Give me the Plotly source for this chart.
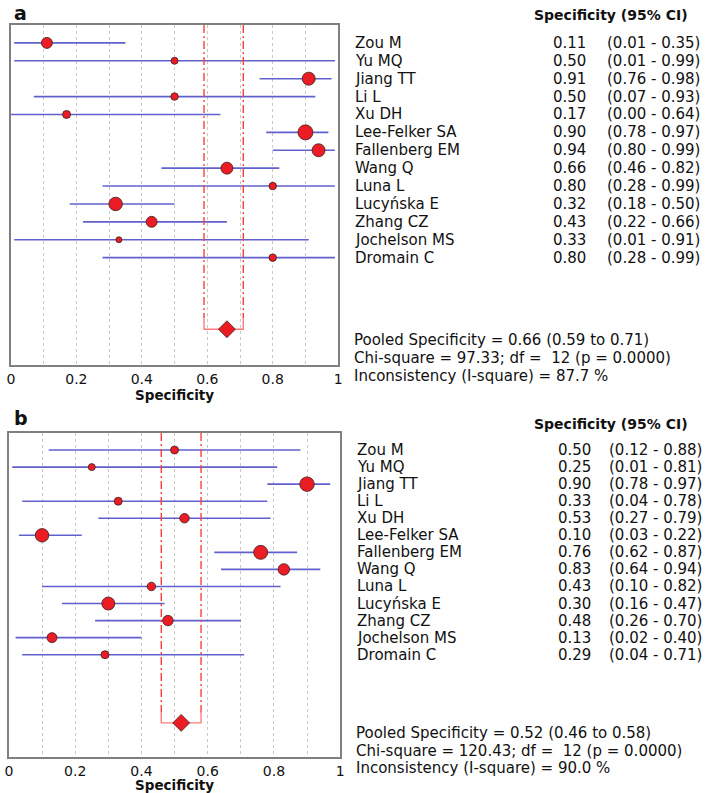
import plotly.graph_objects as go

# ---------------- data ----------------
studies = ["Zou M", "Yu MQ", "Jiang TT", "Li L", "Xu DH", "Lee-Felker SA",
           "Fallenberg EM", "Wang Q", "Luna L", "Lucyńska E", "Zhang CZ",
           "Jochelson MS", "Dromain C"]

spec_a = [0.11, 0.50, 0.91, 0.50, 0.17, 0.90, 0.94, 0.66, 0.80, 0.32, 0.43, 0.33, 0.80]
lo_a = [0.01, 0.01, 0.76, 0.07, 0.00, 0.78, 0.80, 0.46, 0.28, 0.18, 0.22, 0.01, 0.28]
hi_a = [0.35, 0.99, 0.98, 0.93, 0.64, 0.97, 0.99, 0.82, 0.99, 0.50, 0.66, 0.91, 0.99]
weight_a = [11, 7, 13, 7.5, 8, 15, 13, 12, 7.5, 13.5, 11, 6, 7.5]
pooled_a = [0.66, 0.59, 0.71]
stats_a = ["Pooled Specificity = 0.66 (0.59 to 0.71)",
           "Chi-square = 97.33; df =  12 (p = 0.0000)",
           "Inconsistency (I-square) = 87.7 %"]

spec_b = [0.50, 0.25, 0.90, 0.33, 0.53, 0.10, 0.76, 0.83, 0.43, 0.30, 0.48, 0.13, 0.29]
lo_b = [0.12, 0.01, 0.78, 0.04, 0.27, 0.03, 0.62, 0.64, 0.10, 0.16, 0.26, 0.02, 0.04]
hi_b = [0.88, 0.81, 0.97, 0.78, 0.79, 0.22, 0.87, 0.94, 0.82, 0.47, 0.70, 0.40, 0.71]
weight_b = [8, 7, 14.5, 8, 9.5, 13.5, 14, 11.5, 8.5, 13, 10.5, 10, 8]
pooled_b = [0.52, 0.46, 0.58]
stats_b = ["Pooled Specificity = 0.52 (0.46 to 0.58)",
           "Chi-square = 120.43; df =  12 (p = 0.0000)",
           "Inconsistency (I-square) = 90.0 %"]

x_ticks = [0, 0.2, 0.4, 0.6, 0.8, 1]
x_tick_labels = ["0", "0.2", "0.4", "0.6", "0.8", "1"]

# ---------------- styling ----------------
W, H = 709, 793
FONT = "DejaVu Sans"
BLUE = "rgba(80,80,200,0.9)"
RED = "#ec1c24"
DASHRED = "#ff3c3c"
BRACKET = "#ff7a7a"
FRAME = "#808080"

POOL_ROW = 16
Y_TOP, Y_BOT = -1, 18

fig = go.Figure()

panels = [
    dict(spec=spec_a, lo=lo_a, hi=hi_a, w=weight_a, pooled=pooled_a, stats=stats_a,
         xa="x", ya="y", label="a", label_y=13,
         xdom=[7 / W, 338 / W], ydom=[1 - 365 / H, 1 - 25 / H],
         name_x=353, val_x=591, ci_x=608, title_y=395),
    dict(spec=spec_b, lo=lo_b, hi=hi_b, w=weight_b, pooled=pooled_b, stats=stats_b,
         xa="x2", ya="y2", label="b", label_y=418,
         xdom=[5 / W, 340 / W], ydom=[1 - 757 / H, 1 - 433 / H],
         name_x=355, val_x=596, ci_x=610, title_y=785),
]


def row_to_paper(p, row):
    y0, y1 = p["ydom"]
    return y1 - (row - Y_TOP) / (Y_BOT - Y_TOP) * (y1 - y0)


annotations = []
for p in panels:
    rows = list(range(len(studies)))
    # CI lines
    xs, ys = [], []
    for r, l, h in zip(rows, p["lo"], p["hi"]):
        xs += [l, h, None]
        ys += [r, r, None]
    fig.add_trace(go.Scatter(x=xs, y=ys, mode="lines", xaxis=p["xa"], yaxis=p["ya"],
                             line=dict(color=BLUE, width=1.6), hoverinfo="skip",
                             showlegend=False))
    # pooled CI dash-dot lines
    pe, pl, ph = p["pooled"]
    for xv in (pl, ph):
        fig.add_trace(go.Scatter(x=[xv, xv], y=[Y_TOP, POOL_ROW - 0.6], mode="lines",
                                 xaxis=p["xa"], yaxis=p["ya"],
                                 line=dict(color=DASHRED, width=1.4, dash="8px,3px,2px,3px"),
                                 hoverinfo="skip", showlegend=False))
    # bracket
    fig.add_trace(go.Scatter(x=[pl, pl, ph, ph], y=[POOL_ROW - 0.6, POOL_ROW, POOL_ROW, POOL_ROW - 0.6],
                             mode="lines", xaxis=p["xa"], yaxis=p["ya"],
                             line=dict(color=BRACKET, width=1.4), hoverinfo="skip",
                             showlegend=False))
    # study points
    fig.add_trace(go.Scatter(x=p["spec"], y=rows, mode="markers", xaxis=p["xa"], yaxis=p["ya"],
                             marker=dict(size=[v * 1.0 for v in p["w"]], color=RED, opacity=1,
                                         line=dict(color="#3a2020", width=0.8)),
                             showlegend=False))
    # pooled diamond
    fig.add_trace(go.Scatter(x=[pe], y=[POOL_ROW], mode="markers", xaxis=p["xa"], yaxis=p["ya"],
                             marker=dict(symbol="diamond", size=13, color=RED, opacity=1,
                                         line=dict(color="#3a2020", width=0.8)),
                             showlegend=False))

    # header
    annotations.append(dict(text="<b>Specificity (95% CI)</b>", x=694 / W, xref="paper",
                            y=row_to_paper(p, -1.55), yref="paper", xanchor="right",
                            yanchor="middle", showarrow=False,
                            font=dict(family=FONT, size=14, color="#111")))
    for r, name, s, l, h in zip(rows, studies, p["spec"], p["lo"], p["hi"]):
        yp = row_to_paper(p, r)
        annotations.append(dict(text=name, x=p["name_x"] / W, xref="paper", y=yp, yref="paper",
                                xanchor="left", yanchor="middle", showarrow=False,
                                font=dict(family=FONT, size=15, color="#111")))
        annotations.append(dict(text=f"{s:.2f}", x=p["val_x"] / W, xref="paper", y=yp,
                                yref="paper", xanchor="right", yanchor="middle",
                                showarrow=False, font=dict(family=FONT, size=15, color="#111")))
        annotations.append(dict(text=f"({l:.2f} - {h:.2f})", x=p["ci_x"] / W, xref="paper",
                                y=yp, yref="paper", xanchor="left", yanchor="middle",
                                showarrow=False, font=dict(family=FONT, size=15, color="#111")))
    for i, line in enumerate(p["stats"]):
        annotations.append(dict(text=line, x=(p["name_x"] - 1) / W, xref="paper",
                                y=row_to_paper(p, POOL_ROW + 0.62 + i), yref="paper",
                                xanchor="left", yanchor="middle", showarrow=False,
                                font=dict(family=FONT, size=15, color="#111")))
    # panel label
    annotations.append(dict(text=f"<b>{p['label']}</b>", x=8 / W, xref="paper",
                            y=1 - p["label_y"] / H, yref="paper", xanchor="left",
                            yanchor="middle", showarrow=False,
                            font=dict(family=FONT, size=19, color="#111")))
    # axis title
    annotations.append(dict(text="<b>Specificity</b>", x=(p["xdom"][0] + p["xdom"][1]) / 2,
                            xref="paper", y=1 - p["title_y"] / H, yref="paper",
                            xanchor="center", yanchor="middle", showarrow=False,
                            font=dict(family=FONT, size=13.5, color="#111")))

xaxis_common = dict(range=[0, 1], tickmode="array",
                    tickvals=[i / 10 for i in range(11)],
                    ticktext=[x_tick_labels[x_ticks.index(round(i / 10, 1))]
                              if round(i / 10, 1) in x_ticks else "" for i in range(11)],
                    showgrid=True, gridcolor="#c8c8c8", griddash="dot", gridwidth=1,
                    zeroline=False, showline=True, linecolor=FRAME, linewidth=1.5,
                    mirror=True, ticks="", tickfont=dict(family=FONT, size=14, color="#111"),
                    fixedrange=True)
yaxis_common = dict(range=[Y_BOT, Y_TOP], showgrid=False, zeroline=False, showticklabels=False,
                    showline=True, linecolor=FRAME, linewidth=1.5, mirror=True, ticks="",
                    fixedrange=True)

fig.update_layout(
    width=W, height=H, autosize=False,
    margin=dict(l=0, r=0, t=0, b=0),
    paper_bgcolor="white", plot_bgcolor="white",
    xaxis=dict(domain=panels[0]["xdom"], anchor="y", **xaxis_common),
    yaxis=dict(domain=panels[0]["ydom"], anchor="x", **yaxis_common),
    xaxis2=dict(domain=panels[1]["xdom"], anchor="y2", **xaxis_common),
    yaxis2=dict(domain=panels[1]["ydom"], anchor="x2", **yaxis_common),
    annotations=annotations,
    showlegend=False,
)

fig.write_html("out.html",
               config={"displayModeBar": False},
               post_script="document.body.style.margin='0px';"
                           "document.body.style.overflow='hidden';")
